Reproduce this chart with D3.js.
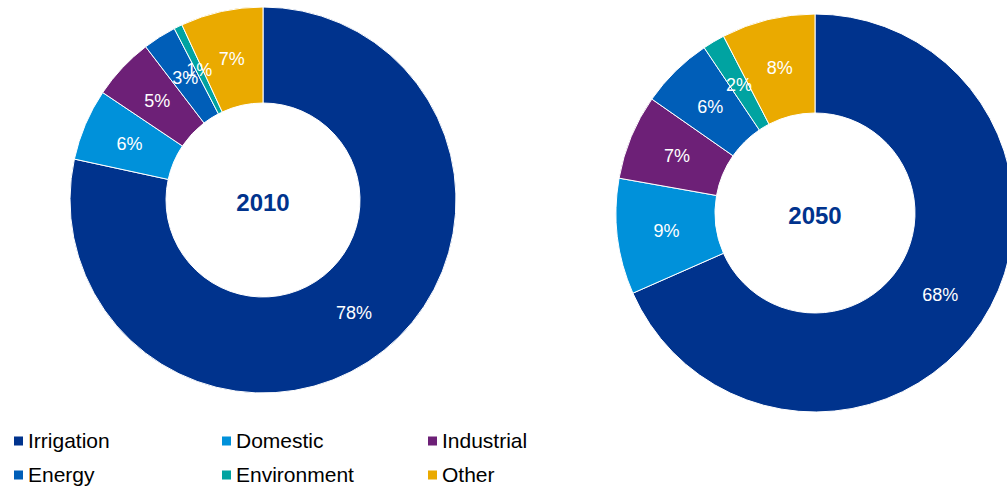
<!DOCTYPE html>
<html>
<head>
<meta charset="utf-8">
<script src="https://cdn.jsdelivr.net/npm/d3@7/dist/d3.min.js"></script>
<style>
  html, body { margin: 0; padding: 0; background: #fff; }
  svg { display: block; font-family: "Liberation Sans", Arial, sans-serif; }
</style>
</head>
<body>
<svg id="chart" width="1007" height="489"></svg>
<script>
// Water use by sector, share of total (%); labels show whole percents
const categories = ["Irrigation", "Domestic", "Industrial", "Energy", "Environment", "Other"];
const colors = ["#00338D", "#0091DA", "#6D2077", "#005EB8", "#00A3A1", "#EAAA00"];
const years = ["2010", "2050"];
const values2010 = [78.4, 6.0, 5.2, 2.8, 0.7, 6.9];
const values2050 = [68.4, 9.4, 6.9, 5.9, 1.8, 7.6];

const svg = d3.select("#chart");
const color = d3.scaleOrdinal().domain(categories).range(colors);
const pct = v => d3.format(".0f")(v) + "%";

const pie = d3.pie().sort(null).value(d => d.value);

function donut(cx, cy, outer, inner, year, values) {
  const data = categories.map((c, i) => ({ cat: c, value: values[i] }));
  const arcs = pie(data);
  const arc = d3.arc().innerRadius(inner).outerRadius(outer);
  const g = svg.append("g").attr("transform", `translate(${cx},${cy})`);

  g.selectAll("path.slice")
    .data(arcs)
    .join("path")
    .attr("class", "slice")
    .attr("d", arc)
    .attr("fill", d => color(d.data.cat))
    .attr("stroke", "#fff")
    .attr("stroke-width", 1);

  g.selectAll("text.pct")
    .data(arcs)
    .join("text")
    .attr("class", "pct")
    .attr("transform", d => `translate(${arc.centroid(d)})`)
    .attr("text-anchor", "middle")
    .attr("dy", "0.35em")
    .attr("fill", "#fff")
    .style("font-size", "18px")
    .text(d => pct(d.data.value));

  g.append("text")
    .attr("text-anchor", "middle")
    .attr("dy", "0.35em")
    .attr("y", 3)
    .attr("fill", "#00338D")
    .style("font-size", "24px")
    .style("font-weight", "bold")
    .text(year);
}

donut(263, 200, 193, 97, years[0], values2010);
donut(815, 213, 199, 100, years[1], values2050);

// Legend: two rows of three
const legendX = [14, 222, 428];
const legendY = [441, 475];
const legend = svg.append("g");
categories.forEach((c, i) => {
  const col = i % 3, row = Math.floor(i / 3);
  const item = legend.append("g")
    .attr("transform", `translate(${legendX[col]},${legendY[row]})`);
  item.append("rect")
    .attr("x", 0).attr("y", -4.5)
    .attr("width", 9).attr("height", 9)
    .attr("fill", color(c));
  item.append("text")
    .attr("x", 14)
    .attr("dy", "0.35em")
    .attr("fill", "#000")
    .style("font-size", "21px")
    .text(c);
});
</script>
</body>
</html>
